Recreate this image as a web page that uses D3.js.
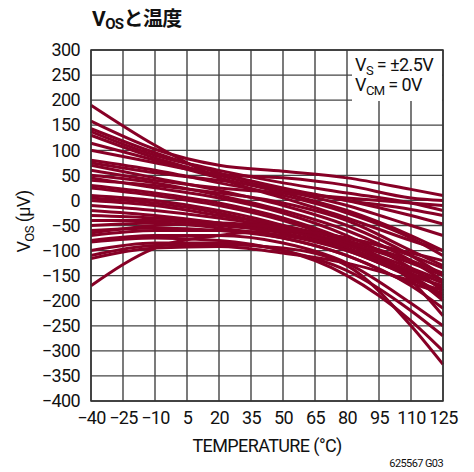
<!DOCTYPE html>
<html>
<head>
<meta charset="utf-8">
<script src="https://cdn.jsdelivr.net/npm/d3@7"></script>
<style>
  body { margin: 0; background: #fff; }
  svg text { font-family: Roboto, "Liberation Sans", sans-serif; fill: #111; letter-spacing: -0.6px; }
</style>
</head>
<body>
<div id="chart"></div>
<script>
const temps = [-40, -10, 20, 50, 80, 110, 125];

// Vos (uV) per part, one array per curve, read at the knots above
const curves = [
    [190, 110, 45, 5, -35, -80, -100],
    [158, 102, 70, 58, 45, 22, 10],
    [143, 95, 55, 25, 0, -30, -47],
    [137, 90, 60, 35, 15, -5, -20],
    [130, 85, 50, 20, -10, -50, -70],
    [114, 80, 45, 15, -20, -70, -100],
    [100, 75, 52, 45, 30, 5, 0],
    [80, 60, 35, 10, -25, -75, -110],
    [75, 55, 40, 22, 0, -18, -30],
    [70, 45, 20, -10, -50, -110, -150],
    [60, 40, 25, 15, 5, -5, -10],
    [50, 35, 10, -20, -60, -120, -160],
    [45, 25, 5, -25, -70, -135, -180],
    [40, 30, 15, -5, -40, -100, -130],
    [30, 15, -5, -35, -80, -150, -200],
    [25, 10, -10, -40, -85, -160, -230],
    [10, 0, -20, -50, -95, -145, -175],
    [5, -5, -25, -55, -95, -140, -165],
    [0, -10, -30, -50, -80, -120, -145],
    [-10, -20, -35, -55, -85, -125, -150],
    [-20, -30, -45, -65, -95, -150, -190],
    [-30, -35, -45, -60, -90, -135, -160],
    [-40, -40, -50, -65, -100, -155, -195],
    [-50, -45, -55, -75, -110, -170, -215],
    [-60, -55, -60, -75, -110, -165, -185],
    [-65, -50, -45, -55, -75, -105, -120],
    [-70, -60, -60, -70, -100, -150, -170],
    [-80, -70, -70, -85, -125, -205, -250],
    [-83, -75, -80, -100, -140, -220, -270],
    [-100, -85, -85, -100, -150, -240, -300],
    [-110, -90, -88, -95, -130, -250, -327],
    [-116, -95, -92, -105, -125, -160, -180],
    [-170, -95, -70, -60, -75, -110, -135]
];

const xTicks = [-40, -25, -10, 5, 20, 35, 50, 65, 80, 95, 110, 125];
const yTicks = [-400, -350, -300, -250, -200, -150, -100, -50, 0, 50, 100, 150, 200, 250, 300];

const width = 474, height = 472;
const margin = { left: 91, right: 31, top: 50, bottom: 71 };

const svg = d3.select("#chart").append("svg")
    .attr("width", width)
    .attr("height", height);

const x = d3.scaleLinear()
    .domain([-40, 125])
    .range([margin.left, width - margin.right]);

const y = d3.scaleLinear()
    .domain([-400, 300])
    .range([height - margin.bottom, margin.top]);

const fmt = d => (d < 0 ? "\u2212" + Math.abs(d) : "" + d);

// grid
svg.append("g")
    .selectAll("line")
    .data(xTicks)
    .enter().append("line")
    .attr("x1", d => x(d)).attr("x2", d => x(d))
    .attr("y1", y(300)).attr("y2", y(-400))
    .attr("stroke", "#333").attr("stroke-width", 1.3);

svg.append("g")
    .selectAll("line")
    .data(yTicks)
    .enter().append("line")
    .attr("x1", x(-40)).attr("x2", x(125))
    .attr("y1", d => y(d)).attr("y2", d => y(d))
    .attr("stroke", "#444").attr("stroke-width", 1.3);

// curves
const line = d3.line()
    .x((d, i) => x(temps[i]))
    .y(d => y(d))
    .curve(d3.curveMonotoneX);

svg.append("g")
    .selectAll("path")
    .data(curves)
    .enter().append("path")
    .attr("d", line)
    .attr("fill", "none")
    .attr("stroke", "#870026")
    .attr("stroke-width", 3)
    .attr("stroke-linejoin", "round");

// frame
svg.append("rect")
    .attr("x", x(-40)).attr("y", y(300))
    .attr("width", x(125) - x(-40)).attr("height", y(-400) - y(300))
    .attr("fill", "none").attr("stroke", "#333").attr("stroke-width", 1.5);

// axes (labels only)
const yAxis = svg.append("g")
    .attr("transform", `translate(${x(-40)},0)`)
    .call(d3.axisLeft(y).tickValues(yTicks).tickFormat(fmt).tickSize(0).tickPadding(11));
yAxis.select(".domain").remove();
yAxis.selectAll("text").attr("font-size", 18).style("font-family", null);

const xAxis = svg.append("g")
    .attr("transform", `translate(0,${y(-400)})`)
    .call(d3.axisBottom(x).tickValues(xTicks).tickFormat(fmt).tickSize(0).tickPadding(10));
xAxis.select(".domain").remove();
xAxis.selectAll("text").attr("font-size", 18).style("font-family", null);

// legend box
const lg = svg.append("g");
lg.append("rect")
    .attr("x", 352).attr("y", y(300) + 1)
    .attr("width", x(125) - 352 - 1).attr("height", 50)
    .attr("fill", "#fff");
const t1 = lg.append("text").attr("x", 355).attr("y", 71).attr("font-size", 18);
t1.append("tspan").text("V");
t1.append("tspan").attr("font-size", 13).attr("dy", 4).text("S");
t1.append("tspan").attr("dy", -4).text(" = \u00b12.5V");
const t2 = lg.append("text").attr("x", 355).attr("y", 91).attr("font-size", 18);
t2.append("tspan").text("V");
t2.append("tspan").attr("font-size", 13).attr("dy", 4).text("CM");
t2.append("tspan").attr("dy", -4).text(" = 0V");

// title
const title = svg.append("text")
    .attr("x", 92).attr("y", 26)
    .attr("font-size", 21).attr("font-weight", "bold");
title.append("tspan").text("V");
title.append("tspan").attr("font-size", 15).attr("dy", 3).text("OS");
title.append("tspan").attr("dy", -3)
    .style("font-family", "'Noto Sans CJK JP', sans-serif")
    .attr("font-size", 20)
    .text("と温度");

// axis titles
svg.append("text")
    .attr("x", (x(-40) + x(125)) / 2).attr("y", 452)
    .attr("text-anchor", "middle").attr("font-size", 18)
    .text("TEMPERATURE (\u00b0C)");

const yl = svg.append("text")
    .attr("transform", `translate(30,${(y(300) + y(-400)) / 2 - 4}) rotate(-90)`)
    .attr("text-anchor", "middle").attr("font-size", 18);
yl.append("tspan").text("V");
yl.append("tspan").attr("font-size", 13).attr("dy", 4).text("OS");
yl.append("tspan").attr("dy", -4).text(" (\u03bcV)");

svg.append("text")
    .attr("x", 443).attr("y", 467)
    .attr("text-anchor", "end").attr("font-size", 11)
    .text("625567 G03");
</script>
</body>
</html>
